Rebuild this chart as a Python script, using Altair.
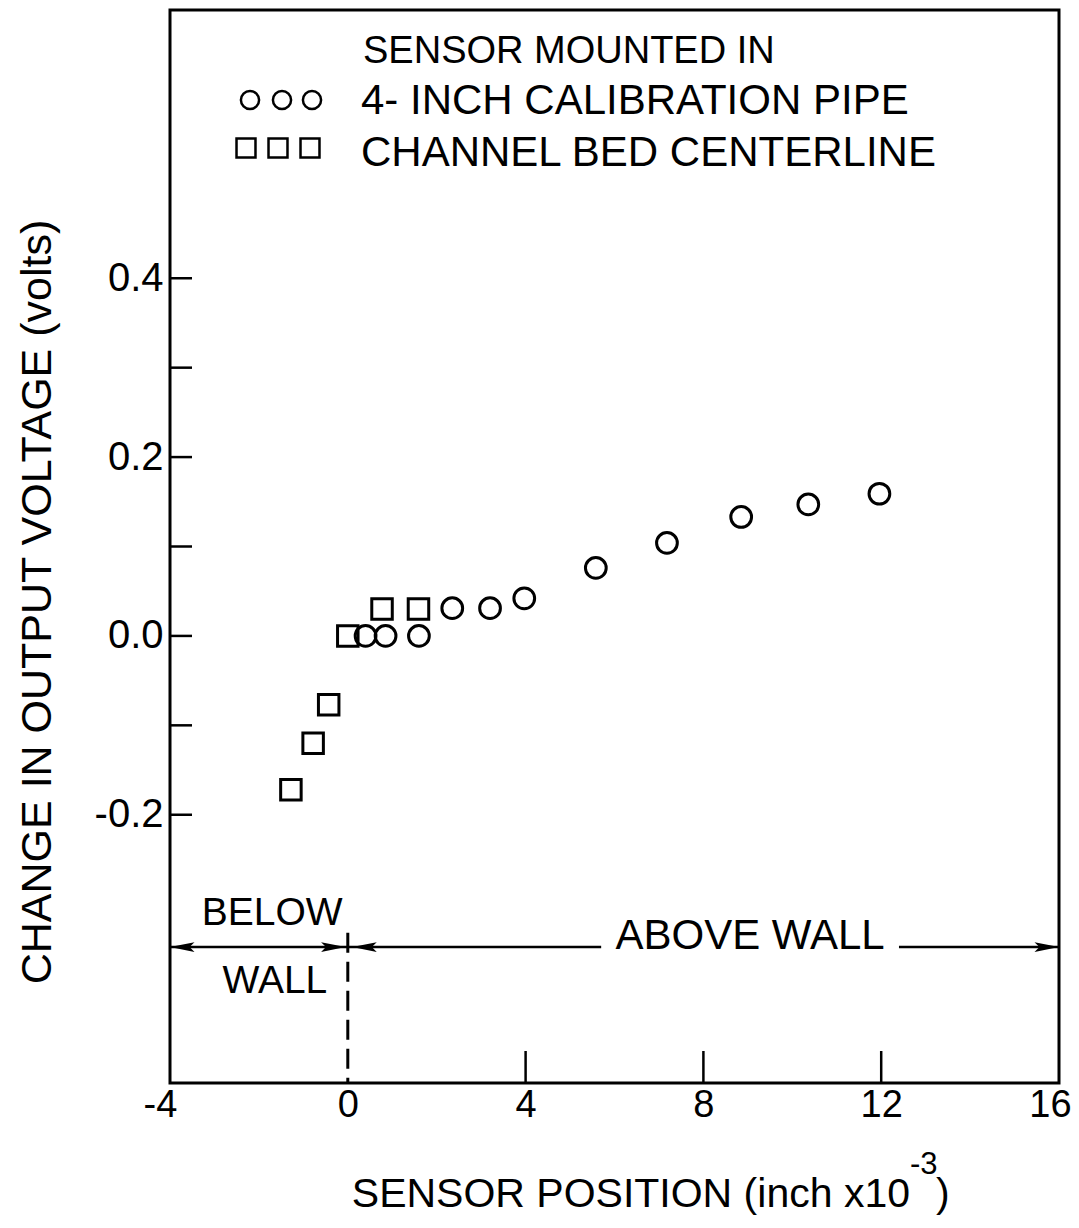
import altair as alt
import pandas as pd

# ---------------- data ----------------
circle_x = [0.4, 0.85, 1.6, 2.35, 3.2, 3.97, 5.58, 7.18, 8.85, 10.36, 11.96]
circle_y = [0.0, 0.0, 0.0, 0.031, 0.031, 0.042, 0.076, 0.104, 0.133, 0.147, 0.159]
square_x = [-1.28, -0.78, -0.43, 0.0, 0.77, 1.59]
square_y = [-0.172, -0.12, -0.077, 0.0, 0.03, 0.03]

x_label_values = [-4, 0, 4, 8, 12, 16]
y_label_values = [0.4, 0.2, 0.0, -0.2]
y_tick_values = [0.4, 0.3, 0.2, 0.1, 0.0, -0.1, -0.2]
x_inner_tick_values = [4, 8, 12]

legend_title = "SENSOR MOUNTED IN"
legend_labels = ["4- INCH CALIBRATION PIPE", "CHANNEL BED CENTERLINE"]
x_title = "SENSOR POSITION (inch x10"
x_title_sup = "-3"
y_title = "CHANGE IN OUTPUT VOLTAGE (volts)"
below_texts = ["BELOW", "WALL"]
above_text = "ABOVE  WALL"

# annotation geometry in data units
wall_y = -0.348
x_min, x_max = -4, 16
y_min, y_max = -0.5, 0.7
above_gap = [5.7, 12.4]
dash_top = -0.332

FONT = "Liberation Sans, Arial, Helvetica, sans-serif"
W, H = 889, 1073

xs = alt.Scale(domain=[x_min, x_max], nice=False, zero=False)
ys = alt.Scale(domain=[y_min, y_max], nice=False, zero=False)

pts = pd.DataFrame({
    "x": circle_x + square_x,
    "y": circle_y + square_y,
    "s": ["circle"] * len(circle_x) + ["square"] * len(square_x),
})

x_axis = alt.Axis(values=x_label_values, ticks=False, domain=False, grid=False,
                  labelFontSize=38, labelFont=FONT, labelColor="black",
                  labelPadding=3, labelFlush=False, labelOverlap=False, title=None,
                  labelOffset={"condition": [{"test": "datum.value == 16", "value": -9},
                                             {"test": "datum.value == -4", "value": -10}],
                               "value": 0},
                  labelExpr="datum.value < 0 ? '-' + format(-datum.value, 'd') : format(datum.value, 'd')")
y_axis = alt.Axis(values=y_label_values, ticks=False, domain=False, grid=False,
                  labelFontSize=40, labelFont=FONT, labelColor="black",
                  labelPadding=7, labelFlush=False, labelOverlap=False, title=None,
                  labelExpr="datum.value < 0 ? '-' + format(-datum.value, '.1f') : format(datum.value, '.1f')")

base_pts = alt.Chart(pts)

circles = base_pts.transform_filter("datum.s == 'circle'").mark_point(
    shape="circle", filled=False, size=430, strokeWidth=3, color="black", opacity=1
).encode(x=alt.X("x:Q", scale=xs, axis=x_axis), y=alt.Y("y:Q", scale=ys, axis=y_axis))

squares = base_pts.transform_filter("datum.s == 'square'").mark_point(
    shape="square", filled=False, size=420, strokeWidth=3, color="black", opacity=1
).encode(x=alt.X("x:Q", scale=xs), y=alt.Y("y:Q", scale=ys))

# inward ticks on left axis
ytick_df = pd.DataFrame({"y": y_tick_values})
yticks = alt.Chart(ytick_df).mark_rule(color="black", strokeWidth=2.5).encode(
    y=alt.Y("y:Q", scale=ys), x=alt.value(0), x2=alt.value(22))

# inward ticks on bottom axis
xtick_df = pd.DataFrame({"x": x_inner_tick_values})
xticks = alt.Chart(xtick_df).mark_rule(color="black", strokeWidth=2.5).encode(
    x=alt.X("x:Q", scale=xs), y=alt.value(H), y2=alt.value(H - 32))

# horizontal wall line segments (broken behind the text)
seg_df = pd.DataFrame({"x": [x_min, above_gap[1]], "x2": [above_gap[0], x_max], "y": [wall_y, wall_y]})
segs = alt.Chart(seg_df).mark_rule(color="black", strokeWidth=2.5).encode(
    x=alt.X("x:Q", scale=xs), x2="x2:Q", y=alt.Y("y:Q", scale=ys))

# dashed wall line at x = 0
dash_df = pd.DataFrame({"x": [0.0], "y": [dash_top], "y2": [y_min]})
dash = alt.Chart(dash_df).mark_rule(color="black", strokeWidth=3, strokeDash=[20, 9]).encode(
    x=alt.X("x:Q", scale=xs), y=alt.Y("y:Q", scale=ys), y2="y2:Q")

# arrowheads (tip at the data point)
LEFT = "M0,0 L2,-0.4 L1.6,0 L2,0.4 Z"
RIGHT = "M0,0 L-2,-0.4 L-1.6,0 L-2,0.4 Z"
arr_left = pd.DataFrame({"x": [x_min, 0.1], "y": [wall_y, wall_y]})
arr_right = pd.DataFrame({"x": [-0.05, x_max], "y": [wall_y, wall_y]})
al = alt.Chart(arr_left).mark_point(shape=LEFT, filled=True, size=600, color="black", opacity=1,
                                     strokeWidth=0).encode(
    x=alt.X("x:Q", scale=xs), y=alt.Y("y:Q", scale=ys))
ar = alt.Chart(arr_right).mark_point(shape=RIGHT, filled=True, size=600, color="black", opacity=1,
                                      strokeWidth=0).encode(
    x=alt.X("x:Q", scale=xs), y=alt.Y("y:Q", scale=ys))

# region labels
region_df = pd.DataFrame({"t": below_texts, "x": [-1.7, -1.64], "y": [-0.31, -0.386]})
region = alt.Chart(region_df).mark_text(font=FONT, fontSize=39, color="black", align="center",
                                        baseline="middle").encode(
    x=alt.X("x:Q", scale=xs), y=alt.Y("y:Q", scale=ys), text="t:N")
above_df = pd.DataFrame({"t": [above_text], "x": [9.05], "y": [-0.336]})
above = alt.Chart(above_df).mark_text(font=FONT, fontSize=42, color="black", align="center",
                                      baseline="middle").encode(
    x=alt.X("x:Q", scale=xs), y=alt.Y("y:Q", scale=ys), text="t:N")

one = alt.Data(values=[{}])

def label(txt, x, y, size, align="left", angle=0, baseline="middle"):
    kw = dict(font=FONT, fontSize=size, color="black", align=align, baseline=baseline, text=txt)
    if angle:
        kw["angle"] = angle
    return alt.Chart(one).mark_text(**kw).encode(x=alt.value(x), y=alt.value(y))

# legend block
leg = [label(legend_title, 193, 42, 38), label(legend_labels[0], 191, 91, 42),
       label(legend_labels[1], 191, 143, 42)]
for lx in [80, 112, 142]:
    leg.append(alt.Chart(one).mark_point(shape="circle", filled=False, size=330, strokeWidth=2.5,
                                         color="black", opacity=1).encode(x=alt.value(lx), y=alt.value(90)))
for lx in [76, 108, 140]:
    leg.append(alt.Chart(one).mark_point(shape="square", filled=False, size=360, strokeWidth=2.5,
                                         color="black", opacity=1).encode(x=alt.value(lx), y=alt.value(138)))

# axis titles
titles = [
    label(x_title, 740, 1185, 41, align="right"),
    label(x_title_sup, 740, 1155, 31, align="left"),
    label(")", 766, 1185, 41, align="left"),
    label(y_title, -132, 592, 43, align="center", angle=270),
]

chart = alt.layer(circles, squares, yticks, xticks, segs, dash, al, ar, region, above, *leg, *titles).properties(
    width=W, height=H,
    autosize=alt.AutoSizeParams(type="none"),
    padding={"left": 162, "top": 2, "right": 12, "bottom": 137},
    background="white",
).configure_view(stroke="black", strokeWidth=3)

chart.save("out.html", embed_options={"renderer": "svg", "actions": False})
